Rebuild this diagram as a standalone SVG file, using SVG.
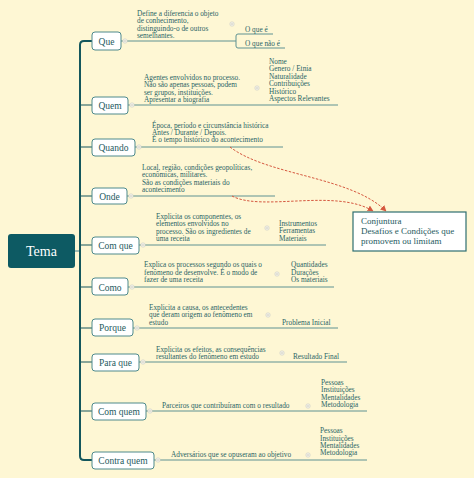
<svg xmlns="http://www.w3.org/2000/svg" width="474" height="478" viewBox="0 0 474 478">
<defs>
<style>
.bg{fill:#FEF7D4}
.box{fill:#fff;stroke:#4E8A8C;stroke-width:1}
.lbl{font-family:"Liberation Serif","DejaVu Serif",serif;font-size:9.5px;fill:#1E5A60}
.t{font-family:"Liberation Serif","DejaVu Serif",serif;font-size:7.3px;fill:#2A6466}
.ul{stroke:#5E9292;stroke-width:1;fill:none}
.trunk{stroke:#14575C;stroke-width:2;fill:none}
.tick{stroke:#14575C;stroke-width:1.2;fill:none}
.cc{fill:#F3F1E6;stroke:#C9CBC4;stroke-width:0.7}
.cm{stroke:#B0B4AE;stroke-width:0.7}
.arr{stroke:#D5583F;stroke-width:1;fill:none;stroke-dasharray:2.5 1.5}
</style>
<marker id="ah" viewBox="0 0 10 10" refX="9" refY="5" markerWidth="6" markerHeight="6" orient="auto">
<path d="M0,0 L10,5 L0,10 z" fill="#D5583F"/>
</marker>
<symbol id="col" viewBox="-4 -4 8 8" overflow="visible">
<circle r="3" class="cc"/><line x1="-1.6" y1="0" x2="1.6" y2="0" class="cm"/>
</symbol>
</defs>
<rect class="bg" x="0" y="0" width="474" height="478"/>

<g id="connectors">
<line x1="75" y1="251" x2="80" y2="251" stroke="#7FA9A8" stroke-width="1.5"/>
<path class="trunk" d="M92,41 H84 Q80,41 80,45 V456 Q80,460 84,460 H92"/>
<path class="tick" d="M80,105 H92 M80,147 H92 M80,196 H92 M80,245 H92 M80,287 H92 M80,328 H92 M80,362 H92 M80,411 H92"/>
<!-- underlines -->
<path class="ul" d="M121,41 H236 M236,36 Q236,34 238,34 H273 M236,36 V46 Q236,48 238,48 H285"/>
<path class="ul" d="M128,105 H338"/>
<path class="ul" d="M135,147 H283"/>
<path class="ul" d="M127,196 H275"/>
<path class="ul" d="M139,245 H326"/>
<path class="ul" d="M128,287 H334"/>
<path class="ul" d="M133,328 H338"/>
<path class="ul" d="M139,362 H347"/>
<path class="ul" d="M146,411 H367"/>
<path class="ul" d="M154,460 H367"/>
<path class="arr" d="M230,147 C268,176 350,176 386,211" marker-end="url(#ah)"/>
<path class="arr" d="M232,196 C262,212 335,188 373,211" marker-end="url(#ah)"/>
</g>

<g id="tema">
<rect x="8" y="234" width="67" height="34" rx="3" fill="#0D5A63"/>
<text x="41.5" y="256" text-anchor="middle" font-family="Liberation Serif,DejaVu Serif,serif" font-size="14" fill="#fff">Tema</text>
</g>

<g id="que">
<rect class="box" x="92" y="32" width="29" height="18" rx="3"/>
<text class="lbl" x="106.5" y="44.5" text-anchor="middle">Que</text>
<use href="#col" x="122" y="38" width="6" height="6"/>
<text class="t"><tspan x="137" y="16">Define a diferencia o objeto</tspan><tspan x="137" y="23.3">de conhecimento,</tspan><tspan x="137" y="30.6">distinguindo-o de outros</tspan><tspan x="137" y="37.9">semelhantes.</tspan></text>
<use href="#col" x="229" y="21" width="6" height="6"/>
<text class="t" x="245" y="32">O que é</text>
<text class="t" x="245" y="46">O que não é</text>
</g>

<g id="quem">
<rect class="box" x="92" y="97" width="36" height="17" rx="3"/>
<text class="lbl" x="110" y="109" text-anchor="middle">Quem</text>
<use href="#col" x="129" y="102" width="6" height="6"/>
<text class="t"><tspan x="144" y="80">Agentes envolvidos no processo.</tspan><tspan x="144" y="87.3">Não são apenas pessoas, podem</tspan><tspan x="144" y="94.6">ser grupos, instituições.</tspan><tspan x="144" y="101.9">Apresentar a biografia</tspan></text>
<use href="#col" x="254" y="85" width="6" height="6"/>
<text class="t"><tspan x="269" y="63.5">Nome</tspan><tspan x="269" y="71">Genero / Etnia</tspan><tspan x="269" y="78.5">Naturalidade</tspan><tspan x="269" y="86">Contribuições</tspan><tspan x="269" y="93.5">Histórico</tspan><tspan x="269" y="101">Aspectos Relevantes</tspan></text>
</g>

<g id="quando">
<rect class="box" x="92" y="139" width="43" height="17" rx="3"/>
<text class="lbl" x="113.5" y="151" text-anchor="middle">Quando</text>
<use href="#col" x="136" y="144" width="6" height="6"/>
<text class="t"><tspan x="152" y="127.5">Época, período e circunstância histórica</tspan><tspan x="152" y="134.8">Antes / Durante / Depois.</tspan><tspan x="152" y="142.1">É o tempo histórico do acontecimento</tspan></text>
</g>

<g id="onde">
<rect class="box" x="92" y="188" width="35" height="16" rx="3"/>
<text class="lbl" x="109.5" y="199.5" text-anchor="middle">Onde</text>
<use href="#col" x="128" y="193" width="6" height="6"/>
<text class="t"><tspan x="142" y="170">Local, região, condições geopolíticas,</tspan><tspan x="142" y="177.3">econômicas, militares.</tspan><tspan x="142" y="184.6">São as condições materiais do</tspan><tspan x="142" y="191.9">acontecimento</tspan></text>
</g>

<g id="comque">
<rect class="box" x="92" y="237" width="47" height="17" rx="3"/>
<text class="lbl" x="115.5" y="248.5" text-anchor="middle">Com que</text>
<use href="#col" x="140" y="242" width="6" height="6"/>
<text class="t"><tspan x="156" y="219">Explicita os componentes, os</tspan><tspan x="156" y="226.3">elementos envolvidos no</tspan><tspan x="156" y="233.6">processo. São os ingredientes de</tspan><tspan x="156" y="240.9">uma receita</tspan></text>
<use href="#col" x="264" y="225" width="6" height="6"/>
<text class="t"><tspan x="279" y="226">Instrumentos</tspan><tspan x="279" y="233.3">Ferramentas</tspan><tspan x="279" y="240.6">Materiais</tspan></text>
</g>

<g id="como">
<rect class="box" x="92" y="278" width="36" height="17" rx="3"/>
<text class="lbl" x="110" y="290.5" text-anchor="middle">Como</text>
<use href="#col" x="129" y="284" width="6" height="6"/>
<text class="t"><tspan x="144" y="267.3">Explica os processos segundo os quais o</tspan><tspan x="144" y="274.6">fenômeno de desenvolve. É o modo de</tspan><tspan x="144" y="281.9">fazer de uma receita</tspan></text>
<use href="#col" x="274" y="271" width="6" height="6"/>
<text class="t"><tspan x="291" y="267.3">Quantidades</tspan><tspan x="291" y="274.6">Durações</tspan><tspan x="291" y="281.9">Os materiais</tspan></text>
</g>

<g id="porque">
<rect class="box" x="92" y="319" width="41" height="17" rx="3"/>
<text class="lbl" x="112.5" y="331" text-anchor="middle">Porque</text>
<use href="#col" x="134" y="325" width="6" height="6"/>
<text class="t"><tspan x="149" y="310">Explicita a causa, os antecedentes</tspan><tspan x="149" y="317.3">que deram origem ao fenômeno em</tspan><tspan x="149" y="324.6">estudo</tspan></text>
<use href="#col" x="265" y="312" width="6" height="6"/>
<text class="t" x="282" y="325">Problema Inicial</text>
</g>

<g id="paraque">
<rect class="box" x="92" y="354" width="47" height="17" rx="3"/>
<text class="lbl" x="115.5" y="366" text-anchor="middle">Para que</text>
<use href="#col" x="140" y="359" width="6" height="6"/>
<text class="t"><tspan x="156" y="351.7">Explicita os efeitos, as consequências</tspan><tspan x="156" y="359">resultantes do fenômeno em estudo</tspan></text>
<use href="#col" x="279" y="350" width="6" height="6"/>
<text class="t" x="293" y="359">Resultado Final</text>
</g>

<g id="comquem">
<rect class="box" x="92" y="403" width="54" height="17" rx="3"/>
<text class="lbl" x="119" y="415" text-anchor="middle">Com quem</text>
<use href="#col" x="147" y="408" width="6" height="6"/>
<text class="t" x="162" y="408">Parceiros que contribuíram com o resultado</text>
<use href="#col" x="305" y="403" width="6" height="6"/>
<text class="t"><tspan x="321" y="385">Pessoas</tspan><tspan x="321" y="392.3">Instituições</tspan><tspan x="321" y="399.6">Mentalidades</tspan><tspan x="321" y="406.9">Metodologia</tspan></text>
</g>

<g id="contraquem">
<rect class="box" x="92" y="452" width="62" height="17" rx="3"/>
<text class="lbl" x="123" y="464" text-anchor="middle">Contra quem</text>
<use href="#col" x="155" y="457" width="6" height="6"/>
<text class="t" x="171" y="456.7">Adversários que se opuseram ao objetivo</text>
<use href="#col" x="305" y="452" width="6" height="6"/>
<text class="t"><tspan x="320" y="433.3">Pessoas</tspan><tspan x="320" y="440.6">Instituições</tspan><tspan x="320" y="447.9">Mentalidades</tspan><tspan x="320" y="455.2">Metodologia</tspan></text>
</g>

<g id="conjuntura">
<rect x="353" y="212" width="113" height="39" fill="#fff" stroke="#2E6E70" stroke-width="1.2"/>
<text font-family="Liberation Serif,DejaVu Serif,serif" font-size="9" fill="#1E5A60"><tspan x="361" y="223.5">Conjuntura</tspan><tspan x="361" y="233.5">Desafios e Condições que</tspan><tspan x="361" y="243.5">promovem ou limitam</tspan></text>
</g>
</svg>
